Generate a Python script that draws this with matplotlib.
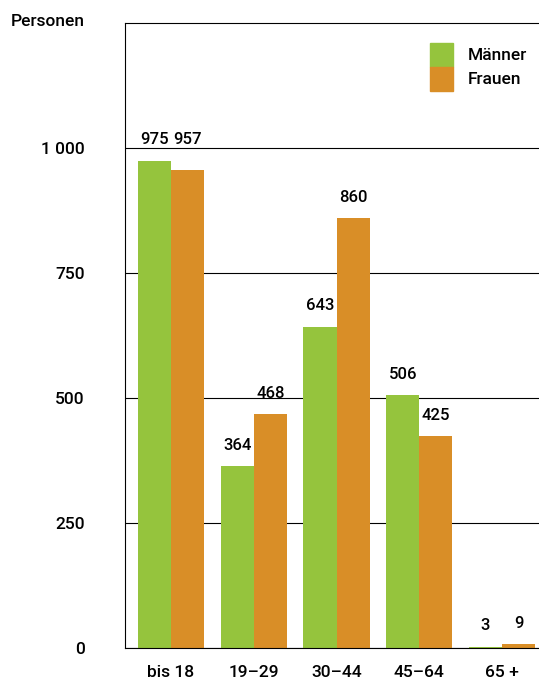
import numpy as np
import matplotlib
matplotlib.use('Agg')
import matplotlib.pyplot as plt
from matplotlib.patches import Rectangle

groups = ['bis 18', '19–29', '30–44', '45–64', '65 +']
maenner = [975, 364, 643, 506, 3]
frauen = [957, 468, 860, 425, 9]
yticks = [0, 250, 500, 750, 1000]
ytick_labels = ['0', '250', '500', '750', '1 000']

green = '#95c43d'
orange = '#d98e27'

plt.rcParams['font.family'] = ['Roboto', 'DejaVu Sans']
plt.rcParams['font.weight'] = 'medium'

fig = plt.figure(figsize=(5.39, 6.82), dpi=100)
ax = fig.add_axes([125 / 539, 34 / 682, 414 / 539, 625 / 682])

x = np.arange(len(groups))
w = 0.4
ax.bar(x - w / 2, maenner, width=w, color=green, zorder=2)
ax.bar(x + w / 2, frauen, width=w, color=orange, zorder=2)

# value labels above the bars; the first pair shares one line
for i in range(len(groups)):
    m, f = maenner[i], frauen[i]
    if i == 0:
        ym = yf = max(m, f) + 26
    else:
        ym, yf = m + 26, f + 26
    ax.text(x[i] - w / 2, ym, str(m), ha='center', va='bottom', fontsize=12)
    ax.text(x[i] + w / 2, yf, str(f), ha='center', va='bottom', fontsize=12)

ax.set_xlim(-0.556, 4.447)
ax.set_ylim(0, 1250)
ax.set_yticks(yticks)
ax.set_yticklabels(ytick_labels, fontsize=12.5)
ax.set_xticks(x)
ax.set_xticklabels(groups, fontsize=12.5)
ax.tick_params(axis='y', length=0, pad=29)
ax.tick_params(axis='x', length=0, pad=12)
ax.grid(axis='y', color='black', linewidth=0.8, zorder=1)
ax.spines['right'].set_visible(False)
for s in ['left', 'top', 'bottom']:
    ax.spines[s].set_linewidth(0.8)

fig.text(85 / 539, 1 - 22 / 682, 'Personen', ha='right', va='center', fontsize=12.5)

# legend swatches
for k, (lab, col) in enumerate([('Männer', green), ('Frauen', orange)]):
    y0 = 1 - (67 + 24 * k) / 682
    fig.add_artist(Rectangle((430 / 539, y0), 23 / 539, 24 / 682,
                             transform=fig.transFigure, color=col))
    fig.text(468 / 539, y0 + 12 / 682, lab, ha='left', va='center', fontsize=12.5)

fig.savefig('out.png', dpi=100)
